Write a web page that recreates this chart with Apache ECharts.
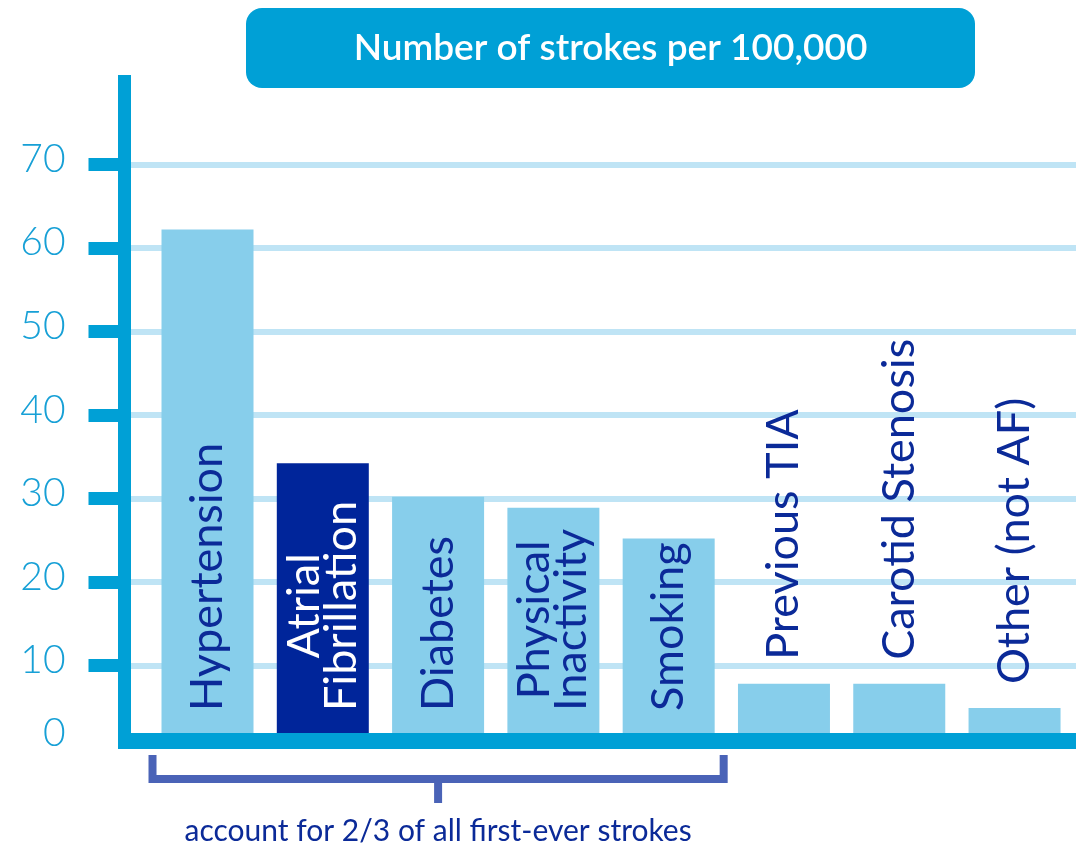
<!DOCTYPE html>
<html>
<head>
<meta charset="utf-8">
<script src="https://cdn.jsdelivr.net/npm/echarts@6/dist/echarts.min.js"></script>
<style>
  html, body { margin: 0; padding: 0; background: #fff; }
  #chart { width: 1076px; height: 844px; }
</style>
</head>
<body>
<div id="chart"></div>
<script>
// data
const categories = [
  "Hypertension",
  "Atrial\nFibrillation",
  "Diabetes",
  "Physical\nInactivity",
  "Smoking",
  "Previous TIA",
  "Carotid Stenosis",
  "Other (not AF)",
];
const strokes = [62.2, 34.2, 30.2, 28.9, 25.2, 7.8, 7.8, 4.9];
const highlighted = "Atrial\nFibrillation";
const yLabelValues = [0, 10, 20, 30, 40, 50, 60, 70];
const yTickValues = [10, 20, 30, 40, 50, 60, 70];
const titleText = "Number of strokes per 100,000";
const noteText = "account for 2/3 of all first-ever strokes";
const bracketCount = 5; // first five bars

const AXIS_BLUE = "#00a0d6";
const BAR_LIGHT = "#87ceeb";
const BAR_DARK = "#00259a";
const NAVY = "#0b2a98";
const FONT = "Lato, 'Open Sans', sans-serif";
const BAR_W = 92;

const chart = echarts.init(document.getElementById("chart"));

const barData = strokes.map((v, i) => {
  const isHi = categories[i] === highlighted;
  const outside = v < 10;
  return {
    value: [i, v],
    name: categories[i],
    itemStyle: { color: isHi ? BAR_DARK : BAR_LIGHT },
    label: {
      position: outside ? "top" : "insideBottom",
      distance: outside ? 24 : 38,
      rich: {
        c: {
          align: "center",
          fontSize: 45,
          fontFamily: FONT,
          lineHeight: 37,
          color: isHi ? "#ffffff" : NAVY,
        },
      },
    },
  };
});

const option = {
  animation: false,
  title: {
    left: 246,
    top: 8,
    padding: 0,
    text: "{box|" + titleText + "}",
    textStyle: {
      rich: {
        box: {
          width: 729,
          height: 80,
          lineHeight: 80,
          align: "center",
          backgroundColor: AXIS_BLUE,
          borderRadius: 16,
          color: "#ffffff",
          fontSize: 37,
          fontWeight: 600,
          fontFamily: FONT,
        },
      },
    },
  },
  grid: {
    left: 124.5,
    right: 0,
    top: 75,
    bottom: 95,
    containLabel: false,
  },
  xAxis: {
    type: "value",
    min: -0.72,
    max: 7.533,
    offset: -8,
    z: 5,
    axisLine: {
      show: true,
      onZero: false,
      lineStyle: { color: AXIS_BLUE, width: 16, cap: "butt" },
    },
    axisTick: { show: false },
    axisLabel: { show: false },
    splitLine: { show: false },
  },
  yAxis: {
    type: "value",
    min: 0,
    max: 80.7,
    axisLine: {
      show: true,
      onZero: false,
      lineStyle: { color: AXIS_BLUE, width: 13, cap: "butt" },
    },
    axisTick: {
      show: true,
      customValues: yTickValues,
      length: 36,
      lineStyle: { color: AXIS_BLUE, width: 13, cap: "butt" },
    },
    axisLabel: {
      customValues: yLabelValues,
      margin: 59,
      color: "#17a0d6",
      fontSize: 39,
      fontWeight: 300,
      fontFamily: FONT,
      formatter: function (v) {
        return v === 0 ? "{z|0}" : "{n|" + v + "}";
      },
      rich: {
        n: { padding: [0, 0, 10, 0], fontSize: 39, color: "#17a0d6", fontFamily: FONT },
        z: { padding: [0, 0, 32, 0], fontSize: 39, color: "#17a0d6", fontFamily: FONT },
      },
    },
    splitLine: {
      show: true,
      lineStyle: { color: "#bfe4f5", width: 6 },
    },
  },
  series: [
    {
      type: "bar",
      barWidth: BAR_W,
      z: 2,
      data: barData,
      label: {
        show: true,
        rotate: 90,
        align: "left",
        verticalAlign: "middle",
        formatter: function (p) {
          return p.name
            .split("\n")
            .map((s) => "{c|" + s + "}")
            .join("\n");
        },
      },
    },
  ],
};

chart.setOption(option);

// bracket under the first bars, placed from the axis scale
const left = chart.convertToPixel({ gridIndex: 0 }, [0, 0]);
const right = chart.convertToPixel({ gridIndex: 0 }, [bracketCount - 1, 0]);
const x0 = left[0] - BAR_W / 2 - 9;
const x1 = right[0] + BAR_W / 2 + 9;
const base = left[1];
const mid = (x0 + x1) / 2;
const bracketStyle = { stroke: "#4a63b7", lineWidth: 8, fill: null };

chart.setOption({
  graphic: [
    {
      type: "polyline",
      shape: {
        points: [
          [x0, base + 6],
          [x0, base + 30],
          [x1, base + 30],
          [x1, base + 6],
        ],
      },
      style: bracketStyle,
    },
    {
      type: "line",
      shape: { x1: mid, y1: base + 30, x2: mid, y2: base + 54 },
      style: bracketStyle,
    },
    {
      type: "text",
      x: mid,
      y: base + 82,
      style: {
        text: noteText,
        fill: NAVY,
        font: "30px " + FONT,
        textAlign: "center",
        textVerticalAlign: "middle",
      },
    },
  ],
});
</script>
</body>
</html>
